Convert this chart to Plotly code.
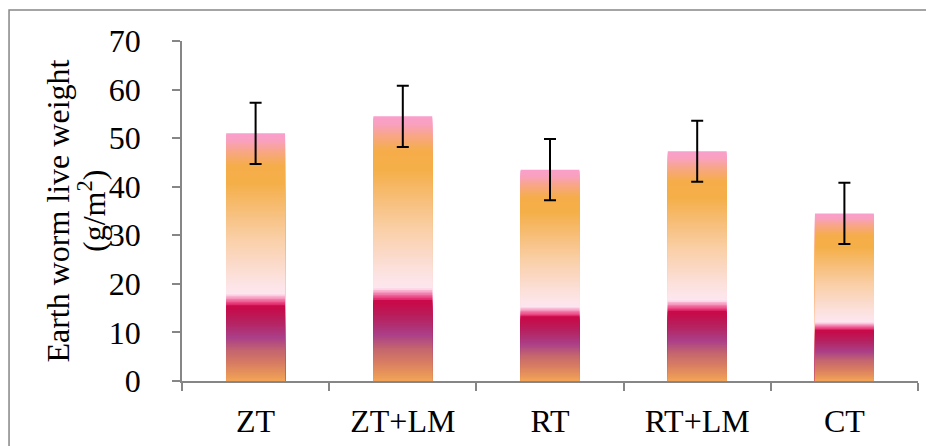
import plotly.graph_objects as go

categories = ["ZT", "ZT+LM", "RT", "RT+LM", "CT"]
live_weight = [51.0, 54.5, 43.5, 47.3, 34.5]
std_error = [6.3, 6.3, 6.3, 6.3, 6.3]
y_ticks = [0, 10, 20, 30, 40, 50, 60, 70]
y_title_lines = ["Earth worm live weight", "(g/m<sup>2</sup>)"]

# gradient stops (fraction of bar height from bottom, colour)
grad_stops = [
    (0.00, "#F2A455"), (0.07, "#D87D62"), (0.12, "#C5666E"), (0.175, "#AA3F88"),
    (0.24, "#B6215F"), (0.29, "#C60C4B"), (0.305, "#C80A4A"), (0.31, "#E63070"),
    (0.325, "#F06CA0"), (0.34, "#F9B0CE"), (0.35, "#FDE6F1"), (0.40, "#FCE3E2"),
    (0.49, "#FBD8C4"), (0.57, "#FAD0A8"), (0.675, "#F7C07E"), (0.80, "#F5AF48"),
    (0.87, "#F5AD4A"), (0.93, "#F8A68A"), (0.97, "#F9A0C0"), (1.00, "#F99FCB"),
]


def hex2rgb(h):
    h = h.lstrip("#")
    return tuple(int(h[i:i + 2], 16) for i in (0, 2, 4))


def color_at(f):
    for (f0, c0), (f1, c1) in zip(grad_stops[:-1], grad_stops[1:]):
        if f0 <= f <= f1:
            t = 0 if f1 == f0 else (f - f0) / (f1 - f0)
            a, b = hex2rgb(c0), hex2rgb(c1)
            return "rgb(%d,%d,%d)" % tuple(round(a[i] + (b[i] - a[i]) * t) for i in range(3))
    return grad_stops[-1][1]


N = 160
fig = go.Figure()
# overlay bars from tallest (top colour) to shortest (bottom colour) -> gradient without seams
for k in range(N):
    top = (N - k) / N
    mid = top - 0.5 / N
    fig.add_trace(go.Bar(
        x=categories,
        y=[v * top for v in live_weight],
        width=0.4,
        marker=dict(color=color_at(mid), line=dict(width=0)),
        showlegend=False,
        hoverinfo="skip",
    ))

fig.add_trace(go.Scatter(
    x=categories,
    y=live_weight,
    mode="markers",
    marker=dict(size=1, opacity=0),
    error_y=dict(type="data", array=std_error, color="black", thickness=2, width=6),
    showlegend=False,
))

axis_col = "#868686"
font_family = "Liberation Serif, Times New Roman, serif"

fig.update_layout(
    width=926, height=438,
    barmode="overlay",
    bargap=0.6,
    plot_bgcolor="white",
    paper_bgcolor="white",
    margin=dict(l=174, r=16, t=33, b=65, autoexpand=False),
    font=dict(family=font_family, size=32, color="black"),
    xaxis=dict(
        type="category", automargin=False,
        showline=True, linecolor=axis_col, linewidth=1.5,
        ticks="outside", tickson="boundaries", ticklen=8, tickcolor=axis_col, tickwidth=1.5,
        ticklabelstandoff=11,
        showgrid=False, tickfont=dict(size=32),
    ),
    yaxis=dict(
        range=[0, 70], tickvals=y_ticks, automargin=False,
        showline=True, linecolor=axis_col, linewidth=1.5,
        ticks="outside", ticklen=8, tickcolor=axis_col, tickwidth=1.5,
        ticklabelstandoff=25,
        showgrid=False, zeroline=False, tickfont=dict(size=32),
    ),
    annotations=[
        dict(text=y_title_lines[0], xref="paper", yref="paper", x=-0.169, y=0.5,
             xanchor="center", yanchor="middle", textangle=-90, showarrow=False,
             font=dict(size=32)),
        dict(text=y_title_lines[1], xref="paper", yref="paper", x=-0.1223, y=0.5,
             xanchor="center", yanchor="middle", textangle=-90, showarrow=False,
             font=dict(size=32)),
    ],
    shapes=[dict(
        type="rect", xref="paper", yref="paper",
        x0=-0.235, x1=1.2, y0=-0.4, y1=1.091,
        line=dict(color=axis_col, width=1.5), fillcolor="rgba(0,0,0,0)", layer="below",
    )],
)

fig.write_html("out.html")
